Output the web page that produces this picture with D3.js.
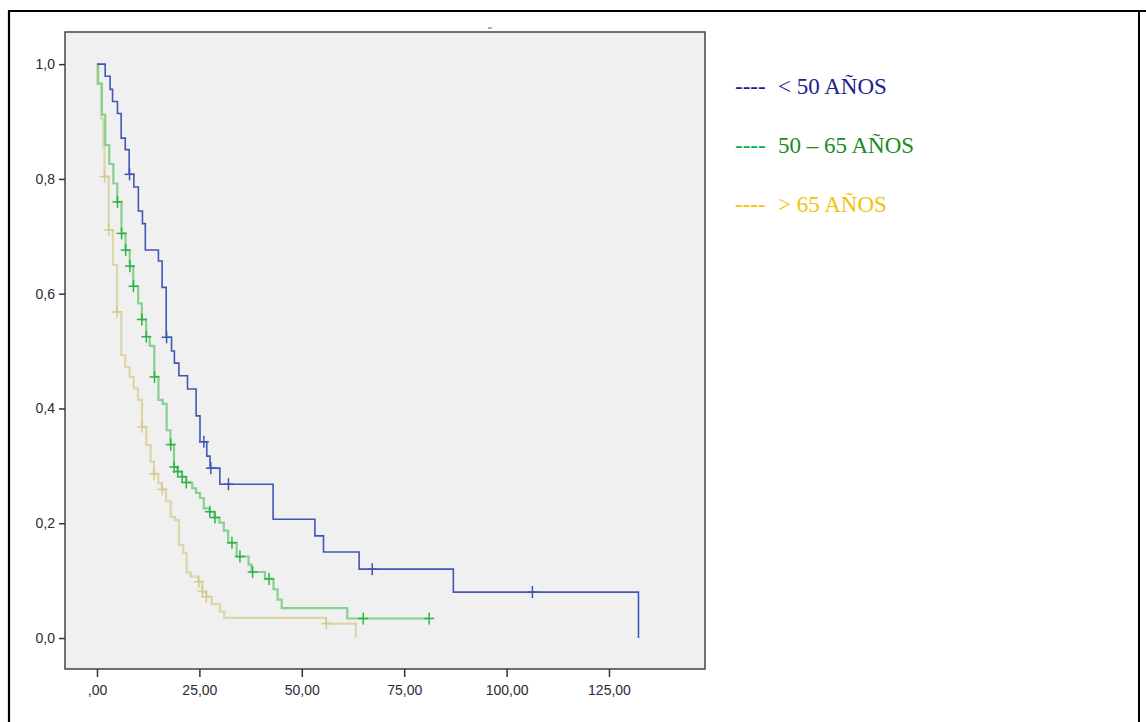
<!DOCTYPE html>
<html>
<head>
<meta charset="utf-8">
<script src="https://cdn.jsdelivr.net/npm/d3@7/dist/d3.min.js"></script>
<style>
  html, body { margin: 0; padding: 0; background: #ffffff; }
  svg { display: block; }
</style>
</head>
<body>
<svg id="chart" width="1146" height="722"></svg>
<script>
// Kaplan-Meier survival by age group (time in months, survival proportion)

// < 50 años
const under50Times = [2.0, 3.2, 3.8, 5.0, 5.9, 6.9, 7.85, 9.0, 10.1, 11.1, 11.8, 15.0, 15.9, 16.9, 18.2, 18.9, 20.0, 22.1, 24.2, 25.15, 26.8, 27.6, 30.0, 43.0, 53.2, 55.3, 64.0, 87.0];
const under50Surv  = [0.979, 0.956, 0.935, 0.914, 0.871, 0.851, 0.808, 0.786, 0.744, 0.722, 0.676, 0.657, 0.611, 0.524, 0.500, 0.479, 0.457, 0.434, 0.387, 0.342, 0.317, 0.296, 0.268, 0.207, 0.178, 0.150, 0.120, 0.080];
const under50Censored = [7.95, 17.0, 26.1, 27.8, 32.1, 67.2, 106.3];
const under50End = 132.2;
const under50EndSurv = 0.0;

// 50 – 65 años
const mid50to65Times = [0.3, 1.2, 2.0, 3.0, 4.0, 4.96, 5.98, 6.96, 8.0, 8.86, 10.06, 10.94, 12.0, 12.87, 13.99, 15.0, 16.04, 17.0, 17.94, 18.8, 19.65, 20.75, 21.78, 23.27, 24.17, 25.15, 26.07, 27.47, 28.7, 29.9, 30.96, 32.03, 34.1, 37.0, 37.7, 41.0, 43.1, 44.1, 45.1, 61.1];
const mid50to65Surv  = [0.966, 0.912, 0.859, 0.826, 0.792, 0.760, 0.705, 0.676, 0.648, 0.613, 0.583, 0.555, 0.525, 0.509, 0.455, 0.415, 0.408, 0.362, 0.337, 0.298, 0.290, 0.281, 0.271, 0.261, 0.253, 0.244, 0.226, 0.220, 0.210, 0.201, 0.187, 0.166, 0.142, 0.128, 0.115, 0.103, 0.085, 0.067, 0.052, 0.034];
const mid50to65Censored = [5.0, 6.0, 7.0, 8.05, 8.9, 10.95, 12.05, 14.05, 18.0, 18.85, 19.7, 20.8, 21.8, 27.55, 28.8, 32.95, 34.9, 38.0, 42.0, 65.0, 81.1];
const mid50to65End = 81.1;
const mid50to65EndSurv = 0.034;

// > 65 años
const over65Times = [0.0, 1.05, 1.54, 1.83, 2.86, 3.9, 4.88, 5.93, 6.9, 7.98, 8.96, 10.0, 10.99, 12.04, 13.1, 13.92, 14.97, 15.87, 16.85, 18.0, 19.04, 20.02, 21.07, 21.9, 22.88, 24.78, 25.7, 26.68, 28.0, 30.03, 31.08, 55.9, 63.2];
const over65Surv  = [0.966, 0.905, 0.856, 0.804, 0.711, 0.650, 0.568, 0.493, 0.472, 0.455, 0.435, 0.415, 0.368, 0.336, 0.307, 0.286, 0.270, 0.259, 0.238, 0.211, 0.206, 0.162, 0.148, 0.114, 0.107, 0.098, 0.081, 0.072, 0.059, 0.046, 0.035, 0.025, 0.0];
const over65Censored = [1.85, 2.9, 4.9, 11.0, 13.95, 15.9, 24.85, 25.75, 26.7, 56.0];
const over65End = 63.2;
const over65EndSurv = 0.0;

// Axis ticks
const xTicks = [0, 25, 50, 75, 100, 125];
const xTickLabels = [",00", "25,00", "50,00", "75,00", "100,00", "125,00"];
const yTicks = [0, 0.2, 0.4, 0.6, 0.8, 1.0];
const yTickLabels = ["0,0", "0,2", "0,4", "0,6", "0,8", "1,0"];

// Legend
const legendLabels = ["< 50 AÑOS", "50 – 65 AÑOS", "> 65 AÑOS"];

const groups = [
  { times: under50Times, surv: under50Surv, censored: under50Censored, end: under50End, endSurv: under50EndSurv,
    line: "#4257b5", lineWidth: 1.6, mark: "#3f55b3", legendText: "#202090", legendDash: "#202090" },
  { times: mid50to65Times, surv: mid50to65Surv, censored: mid50to65Censored, end: mid50to65End, endSurv: mid50to65EndSurv,
    line: "#86d191", lineWidth: 2.2, mark: "#2db544", legendText: "#1a8a1e", legendDash: "#00b050" },
  { times: over65Times, surv: over65Surv, censored: over65Censored, end: over65End, endSurv: over65EndSurv,
    line: "#dcd6a8", lineWidth: 2.2, mark: "#d3cb95", legendText: "#f0c20a", legendDash: "#ffc000" }
];

const svg = d3.select("#chart");

// Page frame
svg.append("path")
  .attr("d", "M9,722 V11 H1146")
  .attr("fill", "none").attr("stroke", "#000").attr("stroke-width", 2.2);
svg.append("line")
  .attr("x1", 1139).attr("x2", 1139).attr("y1", 11).attr("y2", 722)
  .attr("stroke", "#000").attr("stroke-width", 2);

// small stray dash above the plot
svg.append("line")
  .attr("x1", 488).attr("x2", 492).attr("y1", 28).attr("y2", 28)
  .attr("stroke", "#777").attr("stroke-width", 1.2);

// Plot region
const plot = { left: 65, top: 32, right: 705, bottom: 669 };

const x = d3.scaleLinear().domain([-7.81, 148.44]).range([plot.left, plot.right]);
const y = d3.scaleLinear().domain([-0.054, 1.056]).range([plot.bottom, plot.top]);

svg.append("rect")
  .attr("x", plot.left).attr("y", plot.top)
  .attr("width", plot.right - plot.left).attr("height", plot.bottom - plot.top)
  .attr("fill", "#f0f0f0");

// Survival step curves
const stepLine = d3.line()
  .x(d => x(d[0]))
  .y(d => y(d[1]))
  .curve(d3.curveStepAfter);

function survivalAt(g, t) {
  let s = 1;
  for (let i = 0; i < g.times.length; i++) {
    if (g.times[i] <= t) s = g.surv[i];
  }
  return s;
}

// draw in reverse so the youngest group sits on top
[...groups].reverse().forEach(g => {
  const pts = [[0, 1]];
  g.times.forEach((t, i) => pts.push([t, g.surv[i]]));
  pts.push([g.end, g.endSurv]);

  svg.append("path")
    .datum(pts)
    .attr("d", stepLine)
    .attr("fill", "none")
    .attr("stroke", g.line)
    .attr("stroke-width", g.lineWidth)
    .attr("stroke-linejoin", "miter");

  const arm = 5;
  const marks = svg.append("g");
  g.censored.forEach(t => {
    const cx = x(t), cy = y(survivalAt(g, t));
    marks.append("line")
      .attr("x1", cx - arm).attr("x2", cx + arm).attr("y1", cy).attr("y2", cy)
      .attr("stroke", g.mark).attr("stroke-width", 1.5);
    marks.append("line")
      .attr("x1", cx).attr("x2", cx).attr("y1", cy - arm - 1).attr("y2", cy + arm + 1)
      .attr("stroke", g.mark).attr("stroke-width", 1.5);
  });
});

// Plot border
svg.append("rect")
  .attr("x", plot.left).attr("y", plot.top)
  .attr("width", plot.right - plot.left).attr("height", plot.bottom - plot.top)
  .attr("fill", "none").attr("stroke", "#444").attr("stroke-width", 1.5);

// Axes
const yAxis = d3.axisLeft(y)
  .tickValues(yTicks)
  .tickFormat((d, i) => yTickLabels[i])
  .tickSize(6).tickPadding(4);
const yG = svg.append("g").attr("transform", `translate(${plot.left},0)`).call(yAxis);
yG.select(".domain").remove();

const xAxis = d3.axisBottom(x)
  .tickValues(xTicks)
  .tickFormat((d, i) => xTickLabels[i])
  .tickSize(8).tickPadding(8);
const xG = svg.append("g").attr("transform", `translate(0,${plot.bottom})`).call(xAxis);
xG.select(".domain").remove();

[yG, xG].forEach(g => {
  g.selectAll(".tick line").attr("stroke", "#333").attr("stroke-width", 1.5);
  g.selectAll(".tick text")
    .attr("fill", "#2a2a38")
    .style("font-family", "'Liberation Sans', Arial, sans-serif")
    .style("font-size", "14px");
});

// Legend
const legend = svg.append("g").style("font-family", "'Liberation Serif', 'DejaVu Serif', serif");
legendLabels.forEach((label, i) => {
  const g = groups[i];
  const ly = 94 + i * 59;
  legend.append("text")
    .attr("x", 735).attr("y", ly)
    .attr("fill", g.legendDash)
    .style("font-size", "23px")
    .text("----");
  legend.append("text")
    .attr("x", 778).attr("y", ly)
    .attr("fill", g.legendText)
    .style("font-size", "23px")
    .text(label);
});
</script>
</body>
</html>
